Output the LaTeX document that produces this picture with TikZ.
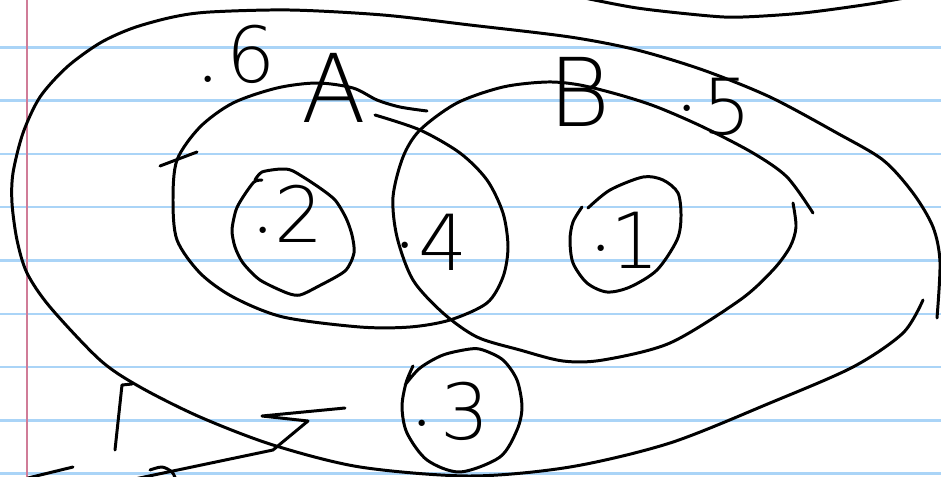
\documentclass[tikz,border=0pt]{standalone}
\usepackage{fontspec}
\newfontfamily\handfont{DejaVu Sans ExtraLight}
\usetikzlibrary{positioning}
\definecolor{ruleblue}{HTML}{AAD4F7}
\definecolor{marginpink}{HTML}{D07C98}
\newcommand{\pdot}[1]{\raisebox{#1}{\rmfamily.}}
\tikzset{
  ink/.style={line width=1.7pt,line cap=round,line join=round},
  rule/.style={line width=1.4pt,draw=ruleblue},
  margin/.style={line width=1.2pt,draw=marginpink},
  % probabilities are written as ".x" next to their region
  prob/.style={font=\handfont\fontsize{44}{44}\selectfont,inner sep=0,anchor=base west},
  setname/.style={font=\handfont\fontsize{54}{54}\selectfont,inner sep=0},
}

\begin{document}
\begin{tikzpicture}[x=0.02cm,y=-0.02cm]
  \clip (0,0) rectangle (941,477);
  % the ruled paper
  \foreach \k in {0,...,8} { \draw[rule] (0,47.3+53.3*\k) -- (941,47.3+53.3*\k); }
  \draw[margin] (26.7,0) -- (26.7,477);
  % stroke cut off at the top
  \draw[ink] plot[smooth] coordinates {(575,-4) (637,8) (710,16) (743,17) (803,13) (870,4) (915,-4)};
  % the outer loop
  \draw[ink] plot[smooth] coordinates {(937,318) (940,262) (933,227) (913,193) (883,160) (837,133) (770,97)
    (703,70) (637,50) (570,37) (470,25) (383,15) (290,10) (210,12) (173,17) (133,28) (100,43) (67,67)
    (40,97) (23,133) (13,173) (12,203) (17,240) (27,273) (50,307) (100,360) (140,387) (200,417) (273,445)
    (360,467) (470,476) (570,467) (670,443) (770,403) (853,367) (903,333) (923,300)};
  % set A
  \draw[ink] plot[smooth] coordinates {(375,115) (420,130) (460,153) (487,180) (503,213) (508,247) (503,277)
    (487,303) (450,320) (410,327) (360,327) (283,317) (233,297) (200,273) (177,240) (173,200) (177,160)
    (200,127) (233,103) (277,88) (317,83) (353,88) (377,100) (400,107) (427,111)};
  \draw[ink] (160,166) -- (197,152);
  % set B
  \draw[ink] plot[smooth] coordinates {(813,213) (787,177) (753,153) (703,127) (657,107) (620,95) (580,85)
    (547,82) (503,87) (457,103) (420,130) (403,157) (393,197) (397,237) (413,280) (443,313) (477,337)
    (520,350) (563,361) (603,360) (670,343) (740,300) (773,270) (790,247) (796,227) (793,203)};
  % the small rings
  \draw[ink] plot[smooth,tension=0.45] coordinates {(262,180) (254,182) (243,197) (236,210) (232,230) (235,247)
    (243,263) (260,280) (287,293) (300,295) (317,287) (345,271) (354,253) (352,235) (346,218) (335,200)
    (317,186) (293,171) (281,169) (262,172) (255,180)};
  \draw[ink] plot[smooth] coordinates {(588,208) (610,190) (643,177) (663,180) (678,193) (681,217) (677,240)
    (657,270) (630,287) (607,292) (587,283) (573,263) (570,240) (573,222) (582,207)};
  \draw[ink] plot[smooth] coordinates {(413,366) (406,383) (402,407) (407,433) (427,460) (460,472) (500,457)
    (517,430) (522,407) (517,380) (503,360) (483,350) (470,349) (443,355) (420,368) (405,385)};
  % scribbles at the bottom
  \draw[ink] (132,384) -- (122,385) -- (115,450);
  \draw[ink] (345,408) -- (262,416) -- (308,421) -- (273,450) -- (130,480);
  \draw[ink] plot[smooth] coordinates {(150,470) (162,467) (172,472) (176,480)};
  \draw[ink] (28,478) -- (73,467);
  % labels
  \node[setname] (nameA) at (334,88) {A};
  \node[setname] (nameB) at (580,92) {B};
  \node[prob] (p6) at (198,82) {\pdot{0pt}\kern.12em6};
  \node[prob] (p5) at (677,134) {\pdot{.29em}\kern.07em5};
  \node[prob] (p2) at (253,242) {\pdot{.11em}\kern.02em2};
  \node[prob] (p4) at (395,270) {\pdot{.28em}\kern.05em4};
  \node[prob] (p1) at (591,268) {\pdot{.21em}1};
  \node[prob] (p3) at (412,439) {\pdot{.16em}\kern.12em3};
\end{tikzpicture}
\end{document}
